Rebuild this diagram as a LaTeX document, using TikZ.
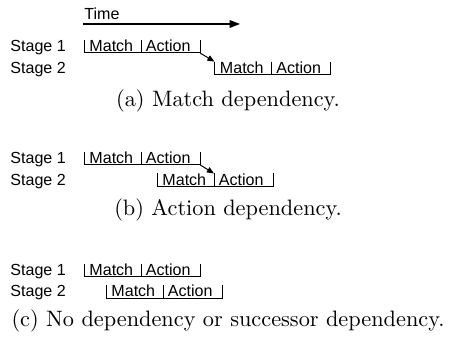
\documentclass[tikz,border=0pt]{standalone}
\usepackage{fontspec}
\setsansfont{Liberation Sans}
\usetikzlibrary{arrows.meta}
\begin{document}
\begin{tikzpicture}[x=0.4484pt,y=-0.4484pt,
  lbl/.style={font=\sffamily\fontsize{7.2}{8.6}\selectfont,inner sep=0pt,anchor=base west},
  capt/.style={font=\fontsize{10}{12}\selectfont,inner sep=0pt,anchor=base},
  ln/.style={line width=0.45pt,black},
  dep/.style={ln,-{Triangle[length=3.2pt,width=2.6pt]}},
  seg/.pic={
    \draw[ln] (0,-13) coordinate (-start) -- (0,0) -- (116,0) coordinate (-end) -- (116,-13);
    \draw[ln] (57,-13) coordinate (-mid) -- (57,0);
    \node[lbl] (-m) at (5,-1.4) {Match};
    \node[lbl] (-a) at (61.5,-1.4) {Action};
  }]
\useasboundingbox (0,0) rectangle (456,337);
% (a)
\node[lbl] (time) at (84,19.5) {Time};
\coordinate (t0) at (83,24);
\coordinate (t1) at (240,24);
\draw[ln,line width=0.55pt,-{Triangle[length=4.6pt,width=3.4pt]}] (t0) -- (t1);
\node[lbl] (s1la) at (10,51.7) {Stage 1};
\node[lbl] (s2la) at (10,73.3) {Stage 2};
\pic (s1a) at (84,53) {seg};
\pic (s2a) at (214.5,74.6) {seg};
\draw[dep] (s1a-end) -- (s2a-start);
\node[capt] (capa) at (228,107) {(a) Match dependency.};
% (b)
\node[lbl] (s1lb) at (10,163.5) {Stage 1};
\node[lbl] (s2lb) at (10,185.2) {Stage 2};
\pic (s1b) at (84,164.8) {seg};
\pic (s2b) at (157,186.5) {seg};
\draw[dep] (s1b-end) -- (s2b-mid);
\node[capt] (capb) at (228,216) {(b) Action dependency.};
% (c)
\node[lbl] (s1lc) at (10,275.5) {Stage 1};
\node[lbl] (s2lc) at (10,297) {Stage 2};
\pic (s1c) at (84,276.8) {seg};
\pic (s2c) at (106,298.3) {seg};
\node[capt] (capc) at (228,326) {(c) No dependency or successor dependency.};
\end{tikzpicture}
\end{document}
